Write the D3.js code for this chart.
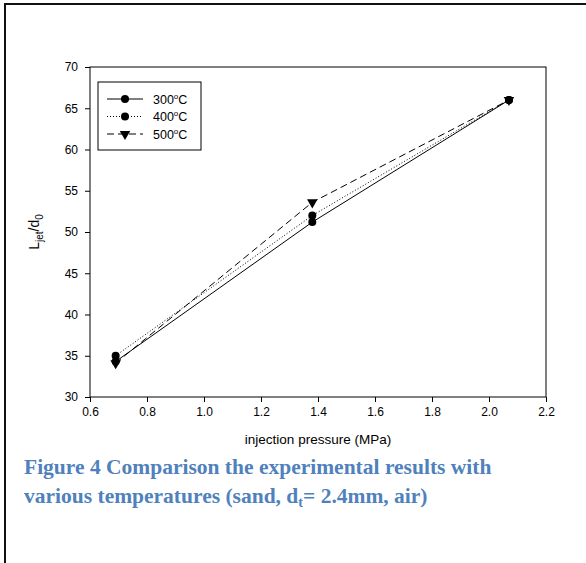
<!DOCTYPE html>
<html>
<head>
<meta charset="utf-8">
<script src="https://cdn.jsdelivr.net/npm/d3@7"></script>
<style>
  body { margin: 0; background: #fff; }
  svg { display: block; }
  .tick text { font-family: "Liberation Sans", Arial, sans-serif; font-size: 12px; fill: #000; }
</style>
</head>
<body>
<svg id="chart" width="586" height="563"></svg>
<script>
// pressures (MPa)
const pressures = [0.69, 1.38, 2.07];
// L_jet/d_0 for each temperature
const series300 = [34.3, 51.2, 66.0];
const series400 = [35.0, 52.0, 66.0];
const series500 = [34.1, 53.6, 66.0];
const seriesNames = ["300", "400", "500"];
const xTicks = [0.6, 0.8, 1.0, 1.2, 1.4, 1.6, 1.8, 2.0, 2.2];
const yTicks = [30, 35, 40, 45, 50, 55, 60, 65, 70];

let svg = d3.select("#chart");

// page frame (only top and left edges visible)
svg.append("path")
  .attr("d", "M5,600 L5,4 L600,4")
  .attr("fill", "none")
  .attr("stroke", "#111")
  .attr("stroke-width", 2);

let x = d3.scaleLinear().domain([0.6, 2.2]).range([90, 546]);
let y = d3.scaleLinear().domain([30, 70]).range([397, 67]);

// plot frame
svg.append("rect")
  .attr("x", x(0.6)).attr("y", y(70))
  .attr("width", x(2.2) - x(0.6)).attr("height", y(30) - y(70))
  .attr("fill", "none").attr("stroke", "#000").attr("stroke-width", 1);

let xAxis = svg.append("g")
  .attr("transform", "translate(0," + y(30) + ")")
  .call(d3.axisBottom(x).tickValues(xTicks).tickFormat(d3.format(".1f")).tickSize(5).tickPadding(5));
let yAxis = svg.append("g")
  .attr("transform", "translate(" + x(0.6) + ",0)")
  .call(d3.axisLeft(y).tickValues(yTicks).tickSize(5).tickPadding(7));
[xAxis, yAxis].forEach(a => {
  a.select(".domain").remove();
  a.selectAll("line").attr("stroke", "#000");
});

// axis titles
svg.append("text")
  .attr("x", 318).attr("y", 444)
  .attr("text-anchor", "middle")
  .style("font-family", "Liberation Sans, Arial, sans-serif")
  .style("font-size", "13.5px")
  .text("injection pressure (MPa)");

let yl = svg.append("text")
  .attr("transform", "translate(39,232) rotate(-90)")
  .attr("text-anchor", "middle")
  .style("font-family", "Liberation Sans, Arial, sans-serif")
  .style("font-size", "14px");
yl.append("tspan").text("L");
yl.append("tspan").attr("dy", 4).style("font-size", "10px").text("jet");
yl.append("tspan").attr("dy", -4).text("/d");
yl.append("tspan").attr("dy", 4).style("font-size", "10px").text("0");

let styles = [
  { data: series300, dash: null, marker: "circle" },
  { data: series400, dash: "1,2", marker: "circle" },
  { data: series500, dash: "7,4", marker: "triangle" }
];

let line = d3.line().x((d, i) => x(pressures[i])).y(d => y(d));
let tri = d3.symbol().type(d3.symbolTriangle).size(48);

function drawMarker(g, type, cx, cy) {
  if (type === "circle") {
    g.append("circle").attr("cx", cx).attr("cy", cy).attr("r", 4).attr("fill", "#000");
  } else {
    g.append("path").attr("d", tri())
      .attr("transform", "translate(" + cx + "," + cy + ") rotate(180)")
      .attr("fill", "#000");
  }
}

let plot = svg.append("g");
styles.forEach(s => {
  plot.append("path")
    .datum(s.data)
    .attr("d", line)
    .attr("fill", "none")
    .attr("stroke", "#000")
    .attr("stroke-width", 1)
    .attr("stroke-dasharray", s.dash);
});
styles.forEach(s => {
  s.data.forEach((d, i) => drawMarker(plot, s.marker, x(pressures[i]), y(d)));
});

// legend
let legend = svg.append("g");
legend.append("rect")
  .attr("x", 98).attr("y", 82).attr("width", 103).attr("height", 68)
  .attr("fill", "#fff").attr("stroke", "#000").attr("stroke-width", 1);
styles.forEach((s, i) => {
  let ly = 99 + i * 17.5;
  legend.append("line")
    .attr("x1", 107).attr("x2", 143).attr("y1", ly).attr("y2", ly)
    .attr("stroke", "#000").attr("stroke-dasharray", s.dash);
  drawMarker(legend, s.marker, 125, ly);
  let t = legend.append("text")
    .attr("x", 153).attr("y", ly + 4.5)
    .style("font-family", "Liberation Sans, Arial, sans-serif")
    .style("font-size", "12.5px");
  t.append("tspan").text(seriesNames[i]);
  t.append("tspan").attr("dy", -5).style("font-size", "8px").text("o");
  t.append("tspan").attr("dy", 5).text("C");
});

// caption
let cap = svg.append("g")
  .style("font-family", "Liberation Serif, Times New Roman, serif")
  .style("font-weight", "bold")
  .style("font-size", "21.5px")
  .style("fill", "#4F81BD");
cap.append("text").attr("x", 24).attr("y", 474)
  .text("Figure 4 Comparison the experimental results with");
let c2 = cap.append("text").attr("x", 24).attr("y", 503);
c2.append("tspan").text("various temperatures (sand, d");
c2.append("tspan").attr("dy", 4).style("font-size", "14px").text("t");
c2.append("tspan").attr("dy", -4).text("= 2.4mm, air)");
</script>
</body>
</html>
